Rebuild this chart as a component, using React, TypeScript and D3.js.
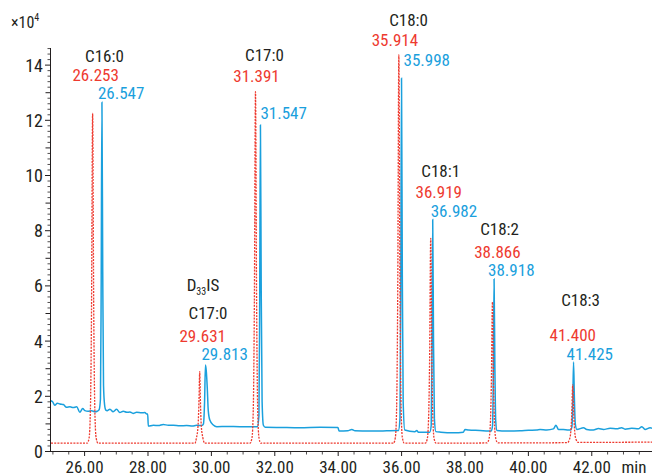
import React from 'react';
import * as d3 from 'd3';

// retention time (min) vs abundance (x10^4)
const redTrace: [number, number][] = [
  [24.94, 0.3], [25.5, 0.3], [26.083, 0.3], [26.143, 0.5], [26.183, 1.5], [26.218, 5.1], [26.253, 12.25],
  [26.288, 5.1], [26.323, 1.5], [26.363, 0.5], [26.423, 0.3], [27.5, 0.3],
  [29.48, 0.3], [29.53, 0.5], [29.58, 0.95], [29.61, 1.9], [29.631, 2.89], [29.652, 1.9], [29.68, 0.95],
  [29.73, 0.5], [29.79, 0.3],
  [31.221, 0.3], [31.281, 0.5], [31.321, 1.5], [31.356, 5.4], [31.391, 13.04], [31.426, 5.4], [31.461, 1.5],
  [31.501, 0.5], [31.561, 0.3], [33.0, 0.3],
  [35.744, 0.3], [35.804, 0.51], [35.844, 1.6], [35.879, 5.9], [35.914, 14.37], [35.949, 5.9], [35.984, 1.6],
  [36.024, 0.51], [36.084, 0.3],
  [36.749, 0.3], [36.809, 0.45], [36.849, 1.1], [36.884, 3.3], [36.919, 7.72], [36.954, 3.3], [36.989, 1.1],
  [37.029, 0.45], [37.089, 0.3],
  [38.696, 0.31], [38.756, 0.45], [38.796, 0.9], [38.831, 2.4], [38.866, 5.42], [38.901, 2.4], [38.936, 0.9],
  [38.976, 0.45], [39.036, 0.31],
  [41.23, 0.32], [41.29, 0.42], [41.33, 0.62], [41.365, 1.25], [41.4, 2.41], [41.435, 1.25], [41.47, 0.62],
  [41.51, 0.42], [41.57, 0.33], [43.9, 0.34],
];

const blueTrace: [number, number][] = [
  [24.93, 1.84], [24.99, 1.8], [25.06, 1.68], [25.14, 1.75], [25.22, 1.72], [25.33, 1.7], [25.43, 1.6],
  [25.54, 1.62], [25.64, 1.59], [25.75, 1.62], [25.85, 1.42], [25.94, 1.56], [26.01, 1.48], [26.11, 1.46],
  [26.22, 1.48], [26.33, 1.44], [26.4, 1.46], [26.46, 1.52], [26.5, 1.9], [26.522, 5.7], [26.547, 12.65],
  [26.572, 6.5], [26.597, 2.4], [26.63, 1.7], [26.67, 1.5], [26.71, 1.48], [26.8, 1.53], [26.9, 1.44],
  [27.01, 1.53], [27.11, 1.41], [27.22, 1.46], [27.33, 1.42], [27.43, 1.43], [27.53, 1.38], [27.64, 1.42],
  [27.8, 1.4], [27.9, 1.41], [27.96, 1.36], [27.99, 1.36], [28.01, 0.92], [28.17, 0.95], [28.33, 0.94],
  [28.48, 0.98], [28.64, 0.95], [28.8, 0.95], [29.0, 0.93], [29.22, 0.94], [29.4, 0.92], [29.53, 0.95],
  [29.7, 0.94], [29.75, 1.0], [29.785, 1.8], [29.813, 3.13], [29.84, 2.9], [29.87, 2.3], [29.9, 1.5],
  [29.95, 1.14], [30.06, 0.96], [30.17, 0.9], [30.5, 0.91], [30.9, 0.9], [31.2, 0.9], [31.45, 0.9],
  [31.5, 1.3], [31.522, 5.0], [31.547, 11.83], [31.572, 5.8], [31.6, 1.8], [31.64, 0.95], [31.7, 0.88],
  [32.2, 0.87], [32.79, 0.86], [33.43, 0.88], [33.99, 0.87], [34.03, 0.74], [34.3, 0.75], [34.43, 0.8],
  [34.53, 0.75], [35.0, 0.74], [35.53, 0.75], [35.9, 0.76], [35.95, 1.2], [35.973, 5.5], [35.998, 13.52],
  [36.023, 6.4], [36.05, 1.8], [36.1, 0.78], [36.42, 0.72], [36.48, 0.76], [36.53, 0.7], [36.8, 0.7],
  [36.89, 0.7], [36.935, 0.95], [36.958, 3.5], [36.982, 8.41], [37.007, 4.0], [37.035, 1.2], [37.08, 0.72],
  [37.24, 0.7], [37.64, 0.68], [37.95, 0.7], [38.0, 0.8], [38.11, 0.78], [38.47, 0.76], [38.74, 0.74],
  [38.83, 0.74], [38.87, 0.95], [38.893, 2.7], [38.918, 6.25], [38.943, 3.1], [38.97, 1.1], [39.01, 0.76],
  [39.32, 0.74], [39.74, 0.75], [40.0, 0.77], [40.26, 0.78], [40.37, 0.8], [40.58, 0.78], [40.79, 0.82],
  [40.87, 0.95], [40.95, 0.8], [41.1, 0.8], [41.26, 0.78], [41.33, 0.78], [41.375, 0.9], [41.4, 1.7],
  [41.425, 3.24], [41.45, 2.0], [41.48, 1.0], [41.53, 0.8], [41.74, 0.86], [41.84, 0.8], [42.05, 0.78],
  [42.21, 0.83], [42.37, 0.8], [42.58, 0.84], [42.79, 0.82], [42.94, 0.86], [43.05, 0.81], [43.26, 0.84],
  [43.47, 0.82], [43.58, 0.9], [43.68, 0.8], [43.84, 0.86], [43.9, 0.84],
];

const peakNames = ['C16:0', 'C17:0', 'C17:0', 'C18:0', 'C18:1', 'C18:2', 'C18:3'];
const redRts = [26.253, 29.631, 31.391, 35.914, 36.919, 38.866, 41.4];
const blueRts = [26.547, 29.813, 31.547, 35.998, 36.982, 38.918, 41.425];

const xTickLabels = [26, 28, 30, 32, 34, 36, 38, 40, 42];
const yTickLabels = [0, 2, 4, 6, 8, 10, 12, 14];

// label placement, pixels relative to peak apex x
const labelLayout = [
  { nameDx: 2.5, nameY: 62, redDx: 3, redY: 81, blueDx: -4, blueY: 99 },
  { nameDx: 2.5, nameY: 319, redDx: 3, redY: 342, blueDx: -4, blueY: 360 },
  { nameDx: 4, nameY: 61, redDx: 1, redY: 82, blueDx: 0, blueY: 119 },
  { nameDx: 7, nameY: 26, redDx: -4, redY: 46, blueDx: 2, blueY: 66 },
  { nameDx: 8, nameY: 177, redDx: 8, redY: 198, blueDx: -2, blueY: 217 },
  { nameDx: 5.5, nameY: 235, redDx: 5, redY: 258, blueDx: -6, blueY: 276 },
  { nameDx: 7, nameY: 306, redDx: 0, redY: 341, blueDx: -7, blueY: 360 },
];

const RED = '#ee3a2f';
const BLUE = '#1aa0dd';
const INK = '#231f20';
const FONT = '"Liberation Sans Narrow", "Roboto Condensed", Roboto, sans-serif';

const W = 652;
const H = 476;

export default function App() {
  const x = d3.scaleLinear().domain([24.94, 43.9]).range([51, 652]);
  const y = d3.scaleLinear().domain([0, 14.62]).range([451.5, 48]);

  const line = d3
    .line<[number, number]>()
    .x((d) => x(d[0]))
    .y((d) => y(d[1]))
    .curve(d3.curveMonotoneX);

  const xMinor = d3.range(25, 44, 0.5).filter((t) => t % 2 !== 0);
  const yMinor = d3.range(0, 14.7, 0.2).filter((v) => Math.abs(v - Math.round(v)) > 0.01);
  const yOdd = [1, 3, 5, 7, 9, 11, 13];

  return (
    <svg
      width={W}
      height={H}
      style={{ position: 'absolute', left: 0, top: 0, background: '#fff' }}
      fontFamily={FONT}
    >
      <defs>
        <clipPath id="plot">
          <rect x={51} y={0} width={W - 51} height={452} />
        </clipPath>
      </defs>

      {/* axis multiplier */}
      <text x={11} y={28} fontSize={16} fill={INK}>
        ×10<tspan fontSize={10} dy={-7}>4</tspan>
      </text>

      {/* y axis */}
      <line x1={50.5} x2={50.5} y1={48} y2={452} stroke={INK} />
      {yMinor.map((v) => (
        <line key={'ym' + v} x1={47.5} x2={50.5} y1={y(v)} y2={y(v)} stroke={INK} strokeWidth={0.8} />
      ))}
      {yOdd.map((v) => (
        <line key={'yo' + v} x1={45.5} x2={50.5} y1={y(v)} y2={y(v)} stroke={INK} />
      ))}
      {yTickLabels.map((v) => (
        <g key={'y' + v}>
          <line x1={45} x2={50.5} y1={y(v)} y2={y(v)} stroke={INK} />
          <text x={43} y={y(v)} dy={6.5} textAnchor="end" fontSize={18} fill={INK}>
            {v}
          </text>
        </g>
      ))}

      {/* x axis */}
      <line x1={50} x2={W} y1={451.5} y2={451.5} stroke={INK} />
      {xMinor.map((t) => (
        <line key={'xm' + t} x1={x(t)} x2={x(t)} y1={451.5} y2={454.5} stroke={INK} strokeWidth={0.8} />
      ))}
      {xTickLabels.map((t) => (
        <g key={'x' + t}>
          <line x1={x(t)} x2={x(t)} y1={451.5} y2={456} stroke={INK} />
          <text x={x(t)} y={472.5} textAnchor="middle" fontSize={17} fill={INK}>
            {t.toFixed(2)}
          </text>
        </g>
      ))}
      <text x={634} y={472.5} textAnchor="middle" fontSize={17} fill={INK}>
        min
      </text>

      <g clipPath="url(#plot)">
        <path d={line(blueTrace) || ''} fill="none" stroke={BLUE} strokeWidth={1.5} />
        <path
          d={line(redTrace) || ''}
          fill="none"
          stroke={RED}
          strokeWidth={1.3}
          strokeDasharray="2,1.2"
        />
      </g>

      {/* peak annotations */}
      {peakNames.map((name, i) => {
        const L = labelLayout[i];
        const rx = x(redRts[i]);
        const bx = x(blueRts[i]);
        return (
          <g key={'p' + i} fontSize={17}>
            {i === 1 && (
              <text x={bx + L.nameDx - 5} y={L.nameY - 28} textAnchor="middle" fill={INK}>
                D<tspan fontSize={10} dy={4}>33</tspan>
                <tspan dy={-4}>IS</tspan>
              </text>
            )}
            <text x={bx + L.nameDx} y={L.nameY} textAnchor="middle" fill={INK}>
              {name}
            </text>
            <text x={rx + L.redDx} y={L.redY} textAnchor="middle" fill={RED}>
              {redRts[i].toFixed(3)}
            </text>
            <text x={bx + L.blueDx} y={L.blueY} textAnchor="start" fill={BLUE}>
              {blueRts[i].toFixed(3)}
            </text>
          </g>
        );
      })}
    </svg>
  );
}
